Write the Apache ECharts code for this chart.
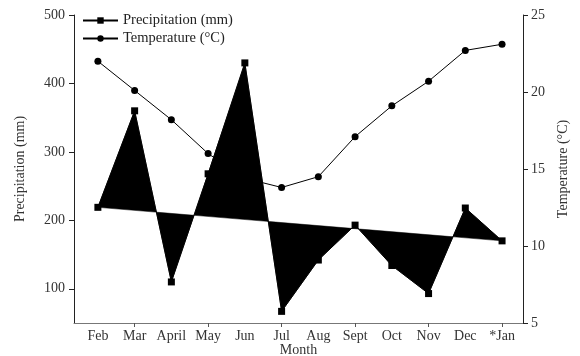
<!DOCTYPE html>
<html>
<head>
<meta charset="utf-8">
<script src="https://cdn.jsdelivr.net/npm/echarts@6/dist/echarts.min.js"></script>
<style>html,body{margin:0;padding:0;background:#fff;}#c{width:580px;height:356px;}</style>
</head>
<body>
<div id="c"></div>
<script>
const months = ['Feb','Mar','April','May','Jun','Jul','Aug','Sept','Oct','Nov','Dec','*Jan'];
const precipitation = [219, 360, 110, 268, 430, 67, 142, 193, 134, 93, 218, 170];
const temperature = [22.0, 20.1, 18.2, 16.0, 14.4, 13.8, 14.5, 17.1, 19.1, 20.7, 22.7, 23.1];
const precipTicks = [100, 200, 300, 400, 500];
const monthTickIdx = [1, 3, 5, 7, 9, 11];

const FONT = 'Liberation Serif';
const FS = 14;
const chart = echarts.init(document.getElementById('c'), null, {renderer: 'canvas'});
const idx = months.map((m, i) => i);
chart.setOption({
  animation: false,
  textStyle: {fontFamily: FONT, color: '#333'},
  grid: {left: 74, right: 57, top: 15, bottom: 33, outerBoundsMode: 'none', containLabel: false},
  legend: {
    orient: 'vertical', left: 77, top: 8, itemWidth: 35, itemHeight: 8, itemGap: 3,
    textStyle: {fontFamily: FONT, fontSize: 14.5, color: '#222'},
    data: ['Precipitation (mm)', 'Temperature (°C)']
  },
  xAxis: {
    type: 'value', min: -0.65, max: 11.57,
    name: 'Month', nameLocation: 'middle', nameGap: 20, nameMoveOverlap: false,
    nameTextStyle: {fontFamily: FONT, fontSize: FS, color: '#333'},
    axisLine: {show: true, onZero: false, lineStyle: {color: '#777', width: 1}},
    axisTick: {show: true, length: 4, customValues: monthTickIdx, lineStyle: {color: '#555'}},
    axisLabel: {customValues: idx, formatter: v => months[Math.round(v)], fontFamily: FONT, fontSize: FS, color: '#333', margin: 6},
    splitLine: {show: false}
  },
  yAxis: [{
    type: 'value', min: 50, max: 500, position: 'left',
    name: 'Precipitation (mm)', nameLocation: 'middle', nameGap: 47,
    nameTextStyle: {fontFamily: FONT, fontSize: FS, color: '#333'},
    axisLine: {show: true, onZero: false, lineStyle: {color: '#222', width: 1}},
    axisTick: {show: true, length: 5, customValues: precipTicks, lineStyle: {color: '#222'}},
    axisLabel: {customValues: precipTicks, fontFamily: FONT, fontSize: FS, color: '#333', margin: 9},
    splitLine: {show: false}
  }, {
    type: 'value', min: 5, max: 25, interval: 5, position: 'right',
    name: 'Temperature (°C)', nameLocation: 'middle', nameGap: 31,
    nameTextStyle: {fontFamily: FONT, fontSize: FS, color: '#333'},
    axisLine: {show: true, onZero: false, lineStyle: {color: '#222', width: 1}},
    axisTick: {show: true, length: 5, lineStyle: {color: '#222'}},
    axisLabel: {fontFamily: FONT, fontSize: FS, color: '#333', margin: 8},
    splitLine: {show: false}
  }],
  series: [{
    name: 'Temperature (°C)', type: 'line', yAxisIndex: 1, z: 1,
    data: temperature.map((v, i) => [i, v]),
    symbol: 'circle', symbolSize: 7,
    itemStyle: {color: '#000'}, lineStyle: {color: '#000', width: 1}
  }, {
    name: 'fill', type: 'custom', yAxisIndex: 0, z: 2,
    data: [[0, precipitation[0]]],
    renderItem: function (params, api) {
      const pts = precipitation.map((v, i) => api.coord([i, v]));
      return {type: 'polygon', shape: {points: pts}, style: {fill: '#000', stroke: '#000', lineWidth: 0.5}};
    },
    silent: true
  }, {
    name: 'Precipitation (mm)', type: 'line', yAxisIndex: 0, z: 3,
    data: precipitation.map((v, i) => [i, v]),
    symbol: 'rect', symbolSize: 7,
    itemStyle: {color: '#000'}, lineStyle: {color: '#000', width: 1}
  }]
});
</script>
</body>
</html>
